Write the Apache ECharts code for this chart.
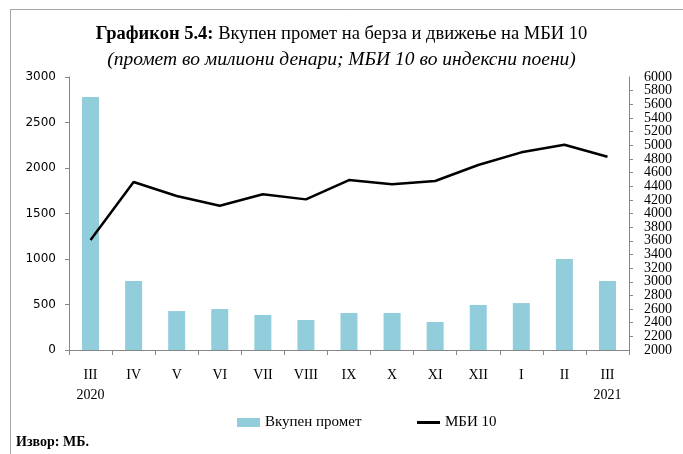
<!DOCTYPE html>
<html>
<head>
<meta charset="utf-8">
<script src="https://cdn.jsdelivr.net/npm/echarts@6/dist/echarts.min.js"></script>
<style>
  html, body { margin: 0; padding: 0; background: #fff; }
  #chart { width: 683px; height: 454px; }
</style>
</head>
<body>
<div id="chart"></div>
<script>
// месеци (март 2020 - март 2021)
const months = ["III\n2020", "IV", "V", "VI", "VII", "VIII", "IX", "X", "XI", "XII", "I", "II", "III\n2021"];
// вкупен промет, милиони денари
const turnover = [2780, 758, 428, 450, 385, 330, 407, 407, 308, 495, 516, 1000, 758];
// МБИ 10, индексни поени
const mbi10 = [3612, 4461, 4256, 4114, 4281, 4207, 4490, 4427, 4476, 4710, 4896, 5008, 4832];

const serif = "Liberation Serif";
const axisGrey = "#868686";
const legendText = {
  fontFamily: serif,
  fontSize: 15,
  color: "#000",
};
const rightLabel = {
  fontFamily: serif,
  fontSize: 14,
  color: "#000",
  margin: 15,
  formatter: (v) => String(v),
};

const chart = echarts.init(document.getElementById("chart"));
chart.setOption({
  animation: false,
  title: {
    text: "{b|Графикон 5.4:} Вкупен промет на берза и движење на МБИ 10",
    subtext: "(промет во милиони денари; МБИ 10 во индексни поени)",
    left: "center",
    top: 20,
    itemGap: 6,
    textStyle: {
      fontFamily: serif,
      fontSize: 18.5,
      fontWeight: "normal",
      color: "#000",
      rich: {
        b: { fontFamily: serif, fontSize: 18.5, fontWeight: "bold", color: "#000" },
      },
    },
    subtextStyle: {
      fontFamily: serif,
      fontSize: 19.5,
      fontStyle: "italic",
      color: "#000",
    },
  },
  grid: {
    left: 69,
    right: 54,
    top: 77,
    bottom: 104,
  },
  legend: [
    {
      left: 232,
      top: 410,
      itemWidth: 23,
      itemHeight: 9,
      icon: "rect",
      textStyle: legendText,
      data: ["Вкупен промет"],
    },
    {
      left: 412,
      top: 410,
      itemWidth: 23,
      itemHeight: 3,
      icon: "rect",
      textStyle: legendText,
      data: ["МБИ 10"],
    },
  ],
  xAxis: {
    type: "category",
    data: months,
    axisLine: { lineStyle: { color: axisGrey, width: 1 } },
    axisTick: { show: true, length: 5, lineStyle: { color: axisGrey } },
    axisLabel: {
      fontFamily: serif,
      fontSize: 14,
      color: "#000",
      lineHeight: 20,
      margin: 15,
      interval: 0,
    },
  },
  yAxis: [
    {
      type: "value",
      min: 0,
      max: 3000,
      interval: 500,
      splitLine: { show: false },
      axisLine: { show: true, lineStyle: { color: axisGrey } },
      axisTick: { show: true, length: 4, lineStyle: { color: axisGrey } },
      axisLabel: {
        fontFamily: "DejaVu Sans",
        fontSize: 12,
        color: "#000",
        margin: 13,
        formatter: (v) => String(v),
      },
    },
    {
      // десна оска: внатрешни ознаки (2200 - 5800)
      type: "value",
      position: "right",
      min: 2000,
      max: 6000,
      interval: 200,
      splitLine: { show: false },
      axisLine: { show: true, lineStyle: { color: axisGrey } },
      axisTick: { show: true, length: 4, lineStyle: { color: axisGrey } },
      axisLabel: Object.assign({ showMinLabel: false, showMaxLabel: false }, rightLabel),
    },
    {
      // десна оска: само 2000 и 6000
      type: "value",
      position: "right",
      min: 2000,
      max: 6000,
      interval: 4000,
      splitLine: { show: false },
      axisLine: { show: false },
      axisTick: { show: false },
      axisLabel: rightLabel,
    },
  ],
  series: [
    {
      name: "Вкупен промет",
      type: "bar",
      data: turnover,
      barWidth: 17,
      itemStyle: { color: "#92CDDC" },
    },
    {
      name: "МБИ 10",
      type: "line",
      yAxisIndex: 1,
      data: mbi10,
      symbol: "none",
      lineStyle: { color: "#000", width: 2.5 },
      itemStyle: { color: "#000" },
    },
  ],
  graphic: [
    // рамка (горе и лево)
    { type: "line", shape: { x1: 10, y1: 9.5, x2: 683, y2: 9.5 }, style: { stroke: "#a6a6a6", lineWidth: 1 } },
    { type: "line", shape: { x1: 10.5, y1: 9, x2: 10.5, y2: 454 }, style: { stroke: "#a6a6a6", lineWidth: 1 } },
    {
      type: "text",
      left: 16,
      top: 435,
      style: {
        text: "Извор: МБ.",
        fontFamily: serif,
        fontSize: 14,
        fontWeight: "bold",
        fill: "#000",
      },
    },
  ],
});
</script>
</body>
</html>
